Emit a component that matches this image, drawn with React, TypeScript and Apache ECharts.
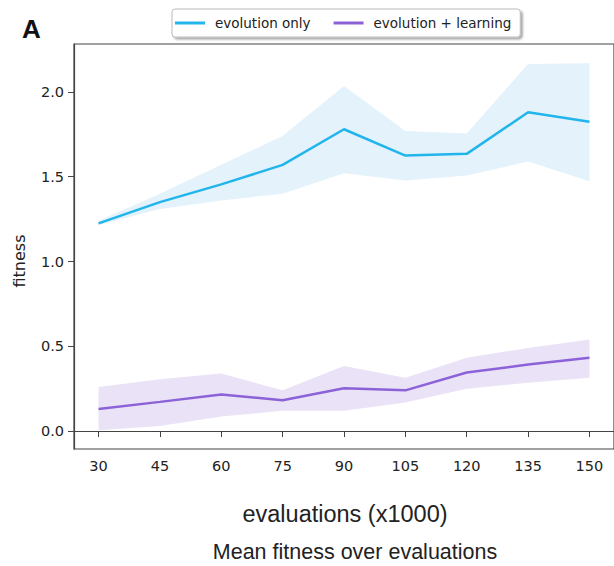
import React, { useEffect, useRef } from "react";
import * as echarts from "echarts";

const evaluations = [30, 45, 60, 75, 90, 105, 120, 135, 150];
const evoMean = [1.225, 1.35, 1.455, 1.57, 1.78, 1.625, 1.635, 1.88, 1.825];
const evoUpper = [1.24, 1.4, 1.57, 1.74, 2.035, 1.77, 1.755, 2.165, 2.17];
const evoLower = [1.215, 1.31, 1.36, 1.4, 1.52, 1.478, 1.507, 1.59, 1.474];
const learnMean = [0.13, 0.172, 0.215, 0.182, 0.252, 0.24, 0.345, 0.392, 0.432];
const learnUpper = [0.26, 0.305, 0.34, 0.24, 0.383, 0.315, 0.432, 0.49, 0.54];
const learnLower = [0.005, 0.03, 0.086, 0.12, 0.12, 0.168, 0.25, 0.285, 0.315];
const xTicks = [30, 45, 60, 75, 90, 105, 120, 135, 150];
const yTicks = [0, 0.5, 1.0, 1.5, 2.0];

const BLUE = "#22b5ec";
const PURPLE = "#8c62d8";
const BLUE_BAND = "#e3f2fb";
const PURPLE_BAND = "#eae2f6";

function bandSeries(lower: number[], upper: number[], color: string) {
  return {
    type: "custom",
    silent: true,
    z: 1,
    clip: true,
    data: evaluations.map((x, i) => [x, lower[i], upper[i]]),
    encode: { x: 0, y: [1, 2] },
    renderItem: (params: any, api: any) => {
      if (params.dataIndex !== 0) return null;
      const top = evaluations.map((x, i) => api.coord([x, upper[i]]));
      const bottom = evaluations
        .map((x, i) => api.coord([x, lower[i]]))
        .reverse();
      return {
        type: "polygon",
        shape: { points: top.concat(bottom) },
        style: { fill: color, stroke: null },
      };
    },
  };
}

export default function App() {
  const ref = useRef<HTMLDivElement>(null);
  useEffect(() => {
    if (!ref.current) return;
    const chart = echarts.init(ref.current, null, { renderer: "svg" });
    const tickFont = {
      fontFamily: "DejaVu Sans",
      fontSize: 14.5,
      color: "#222",
    };
    chart.setOption({
      animation: false,
      backgroundColor: "#fff",
      grid: {
        left: 74,
        right: -5,
        top: 44,
        bottom: 117,
        show: true,
        borderColor: "#444",
        borderWidth: 1.2,
        backgroundColor: "transparent",
      },
      legend: {
        left: 172,
        top: 9,
        padding: [7, 9, 7, 3],
        itemGap: 23,
        itemWidth: 30,
        itemHeight: 3,
        backgroundColor: "#fff",
        borderColor: "#bbb",
        borderWidth: 1,
        borderRadius: 3,
        shadowColor: "rgba(0,0,0,0.35)",
        shadowBlur: 2,
        shadowOffsetX: 2,
        shadowOffsetY: 2,
        textStyle: {
          fontFamily: "DejaVu Sans",
          fontSize: 13.5,
          color: "#222",
          padding: [0, 0, 0, 5],
        },
        data: [
          { name: "evolution only", icon: "rect" },
          { name: "evolution + learning", icon: "rect" },
        ],
      },
      xAxis: {
        type: "value",
        min: 24,
        max: 156,
        splitLine: { show: false },
        axisLine: { show: true, lineStyle: { color: "#444", width: 1.2 } },
        axisTick: {
          show: true,
          length: 6,
          lineStyle: { color: "#444" },
          customValues: xTicks,
        },
        axisLabel: { ...tickFont, margin: 9, customValues: xTicks },
      },
      yAxis: {
        type: "value",
        min: -0.106,
        max: 2.283,
        splitLine: { show: false },
        axisLine: { show: true, lineStyle: { color: "#444", width: 1.2 } },
        axisTick: {
          show: true,
          length: 6,
          lineStyle: { color: "#444" },
          customValues: yTicks,
        },
        axisLabel: {
          ...tickFont,
          margin: 10,
          customValues: yTicks,
          formatter: (v: number) => v.toFixed(1),
        },
      },
      graphic: [
        {
          type: "text",
          left: 22,
          top: 16,
          style: {
            text: "A",
            font: "bold 26px 'Liberation Sans', Arial, sans-serif",
            fill: "#111",
          },
        },
        {
          type: "text",
          x: 19,
          y: 261,
          rotation: Math.PI / 2,
          style: {
            text: "fitness",
            font: "16px 'DejaVu Sans', sans-serif",
            fill: "#222",
            align: "center",
            verticalAlign: "middle",
          },
        },
        {
          type: "text",
          x: 345,
          y: 514,
          style: {
            text: "evaluations (x1000)",
            font: "23.5px 'Liberation Sans', Arial, sans-serif",
            fill: "#222",
            align: "center",
            verticalAlign: "middle",
          },
        },
        {
          type: "text",
          x: 355,
          y: 552,
          style: {
            text: "Mean fitness over evaluations",
            font: "21.5px 'Liberation Sans', Arial, sans-serif",
            fill: "#222",
            align: "center",
            verticalAlign: "middle",
          },
        },
      ],
      series: [
        bandSeries(evoLower, evoUpper, BLUE_BAND),
        bandSeries(learnLower, learnUpper, PURPLE_BAND),
        {
          name: "evolution only",
          type: "line",
          z: 3,
          symbol: "none",
          color: BLUE,
          lineStyle: { color: BLUE, width: 2.5 },
          data: evaluations.map((x, i) => [x, evoMean[i]]),
        },
        {
          name: "evolution + learning",
          type: "line",
          z: 3,
          symbol: "none",
          color: PURPLE,
          lineStyle: { color: PURPLE, width: 2.5 },
          data: evaluations.map((x, i) => [x, learnMean[i]]),
        },
      ],
    });
    return () => chart.dispose();
  }, []);
  return (
    <div
      ref={ref}
      style={{ position: "absolute", left: 0, top: 0, width: 614, height: 566 }}
    />
  );
}
